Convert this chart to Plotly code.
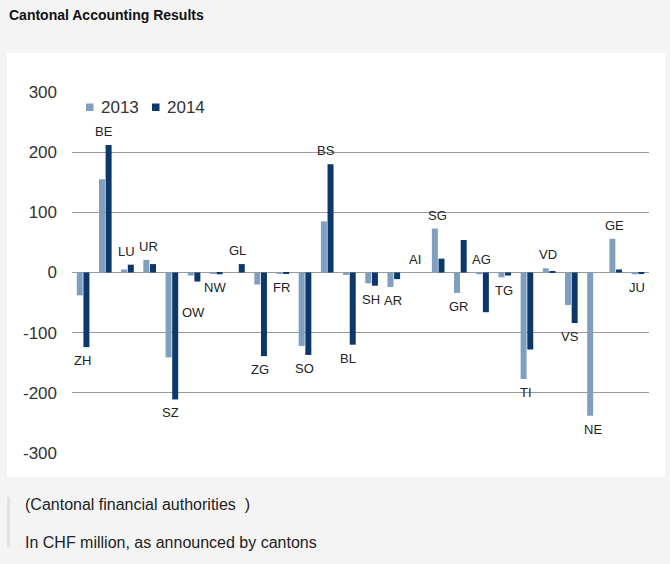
import plotly.graph_objects as go

title = "Cantonal Accounting Results"

cantons = ["ZH", "BE", "LU", "UR", "SZ", "OW", "NW", "GL", "ZG", "FR", "SO", "BS", "BL",
           "SH", "AR", "AI", "SG", "GR", "AG", "TG", "TI", "VD", "VS", "NE", "GE", "JU"]
results_2013 = [-38, 155, 5, 21, -141, -5, -2, 0, -20, -2, -122, 85, -4,
                -18, -24, 0, 73, -34, -3, -8, -177, 7, -54, -238, 56, -3]
results_2014 = [-124, 212, 13, 14, -211, -15, -3, 14, -139, -2, -137, 180, -120,
                -22, -11, 0, 23, 54, -66, -5, -128, 2, -84, 0, 5, -2]
# which side of the bars the canton label sits on
label_side = ["below", "above", "above", "above", "below", "below", "below", "above",
              "below", "below", "below", "above", "below", "below", "below", "above",
              "above", "below", "above", "below", "below", "above", "below", "below",
              "above", "below"]
y_ticks = [-300, -200, -100, 0, 100, 200, 300]

c13 = "#7f9ec0"
c14 = "#0c386b"
font = "Liberation Sans, Arial, Helvetica, sans-serif"

W, H = 670, 564
L, R, T, B = 72, 649, 92, 453


def px(x):
    return (x - L) / (R - L)


def py(y):
    return (B - y) / (B - T)


fig = go.Figure()
fig.add_trace(go.Bar(x=cantons, y=results_2013, name="2013", marker_color=c13,
                     marker_line_width=0, showlegend=False))
fig.add_trace(go.Bar(x=cantons, y=results_2014, name="2014", marker_color=c14,
                     marker_line_width=0, showlegend=False))

annotations = []
for i, c in enumerate(cantons):
    if label_side[i] == "above":
        y = max(0, results_2013[i], results_2014[i])
        anchor, shift = "bottom", 4
    else:
        y = min(0, results_2013[i], results_2014[i])
        anchor, shift = "top", -4
    if c == "OW":
        shift -= 17
    annotations.append(dict(x=c, y=y, xref="x", yref="y", text=c, showarrow=False,
                            yanchor=anchor, yshift=shift, xshift=-1,
                            font=dict(size=13, color="#222222", family=font)))

# legend, drawn by hand to match the small squares
shapes = []
for x0, col, lab in [(86, c13, "2013"), (152, c14, "2014")]:
    shapes.append(dict(type="rect", xref="paper", yref="paper",
                       x0=px(x0), x1=px(x0 + 7.5), y0=py(111), y1=py(103.5),
                       fillcolor=col, line_width=0))
    annotations.append(dict(x=px(x0 + 13), y=py(107), xref="paper", yref="paper",
                            text=lab, showarrow=False, xanchor="left", yanchor="middle",
                            font=dict(size=17, color="#333333", family=font)))

# white panel behind the chart
shapes.append(dict(type="rect", xref="paper", yref="paper", layer="below",
                   x0=px(7), x1=px(665), y0=py(477), y1=py(53),
                   fillcolor="white", line_width=0))
# grey bar beside the source note
shapes.append(dict(type="rect", xref="paper", yref="paper",
                   x0=px(7), x1=px(10), y0=py(547), y1=py(497),
                   fillcolor="#e2e2e2", line_width=0))

annotations.append(dict(x=px(7), y=py(15), xref="paper", yref="paper", text="<b>" + title + "</b>",
                        showarrow=False, xanchor="left", yanchor="middle",
                        font=dict(size=14, color="#111111", family=font)))
annotations.append(dict(x=px(23), y=py(504), xref="paper", yref="paper",
                        text="(Cantonal financial authorities  )", showarrow=False,
                        xanchor="left", yanchor="middle",
                        font=dict(size=16, color="#222222", family=font)))
annotations.append(dict(x=px(23), y=py(542), xref="paper", yref="paper",
                        text="In CHF million, as announced by cantons", showarrow=False,
                        xanchor="left", yanchor="middle",
                        font=dict(size=16, color="#222222", family=font)))

fig.update_layout(
    width=W, height=H, autosize=False,
    margin=dict(l=L, r=W - R, t=T, b=H - B, pad=0),
    paper_bgcolor="#f4f4f4", plot_bgcolor="rgba(0,0,0,0)",
    barmode="group", bargap=0.4, bargroupgap=0.1,
    font=dict(family=font),
    shapes=shapes, annotations=annotations,
)
fig.update_xaxes(showticklabels=False, showgrid=False, zeroline=False, showline=False,
                 range=[-0.5, len(cantons) - 0.5])
fig.update_yaxes(range=[-300, 300], tickvals=y_ticks, ticktext=[str(v) for v in y_ticks],
                 showgrid=True, gridcolor="#9a9a9a",
                 gridwidth=1.3, zeroline=True, zerolinecolor="#9a9a9a", zerolinewidth=1.3,
                 showline=False, ticks="", ticklabelstandoff=14,
                 tickfont=dict(size=17, color="#333333", family=font))

fig.write_html("out.html", config={"displayModeBar": False},
               post_script="document.body.style.margin='0';document.body.style.overflow='hidden';")
